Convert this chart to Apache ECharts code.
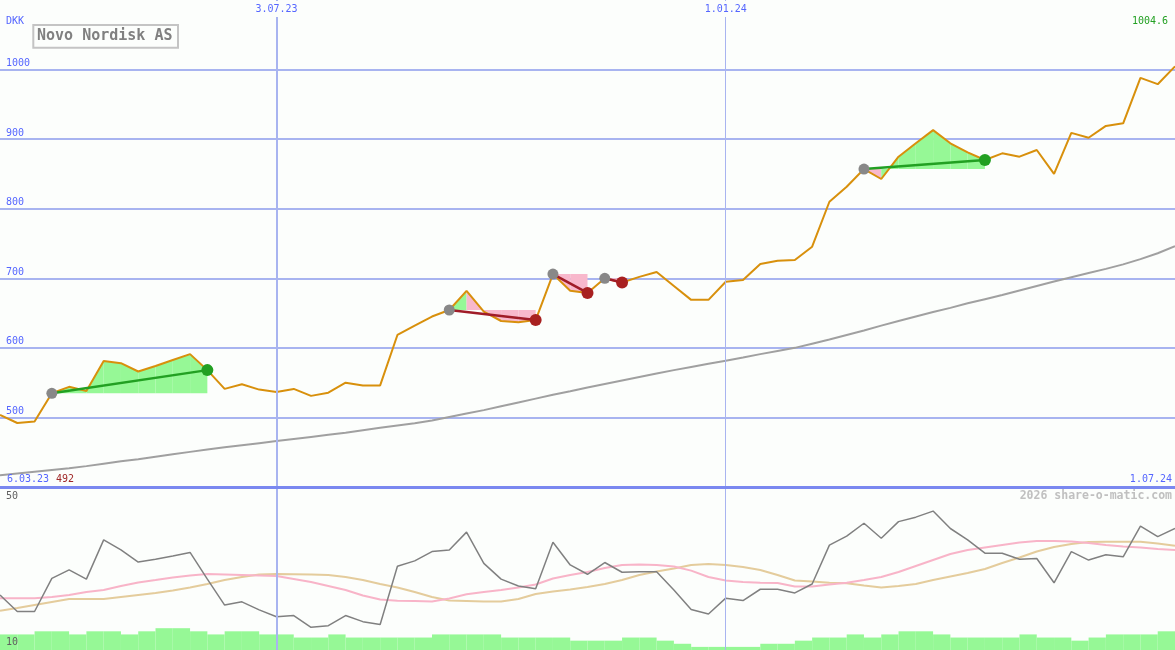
<!DOCTYPE html>
<html><head><meta charset="utf-8">
<script src="https://cdn.jsdelivr.net/npm/echarts@6/dist/echarts.min.js"></script>
<style>html,body{margin:0;padding:0;background:#fcfefc}#c{width:1175px;height:650px}</style>
</head><body><div id="c"></div>
<script>
// weekly categories (Mondays) from 13.03.23 to 1.07.24
const weeks = [];
for (let k = 0; k < 69; k++) {
  const d = new Date(Date.UTC(2023, 2, 13) + k * 7 * 86400000);
  weeks.push(d.toISOString().slice(0, 10));
}
const volWeeks = weeks.slice(0, 68);

const price = [503.5,492,494,534.7,544,538,581,578,566,574,
  582.5,591,568,541,547.6,540,536.5,541,531,535.6,
  550,546,546,618.5,632,645,654.4,682,652,638.6,
  636.7,640,706,682,679,700,694,702,709,689,
  669,669,695,697.5,720.5,725.3,726.3,745.4,810,831.6,
  857,842.7,874.8,894,913,894,881,870,879.6,874.8,
  884.4,850,909,902,919,922.8,988,979,1004.6];

const priceMA = [417,419.5,422,424.5,427,430,433.5,437,440,443.5,
  447,450.5,454,457,460,463,466,469,472,475,
  478,481.5,485,488.5,491.5,495.5,500.5,505.5,510.5,516,
  521.5,527,532.5,537.5,543,548,553,558,563,568,
  572.5,577,581.5,586,591,595.5,600,606,612,618.5,
  625,632,638.5,645,651.5,657.5,664,670,676,682.5,
  689,695.5,701.5,707.5,713.5,720,727.5,736,746];

const osc = [23.6,19.5,19.5,27.7,29.8,27.5,37.2,34.7,31.7,32.4,
  33.2,34.1,27.5,21.1,21.9,19.9,18.2,18.5,15.6,16.0,
  18.5,17.0,16.3,30.7,32.0,34.3,34.7,39.1,31.4,27.5,
  25.8,25.1,36.6,31.0,28.7,31.6,29.2,29.3,29.3,24.8,
  20.0,18.9,22.8,22.2,25.0,25.0,24.1,26.3,35.9,38.1,
  41.3,37.6,41.7,42.8,44.3,40.0,37.2,33.9,33.9,32.4,
  32.6,26.6,34.3,32.2,33.5,33.0,40.6,38.0,40.0];

const oscFast = [22.77,22.77,22.77,23.09,23.58,24.32,24.81,25.80,26.67,27.28,
  27.90,28.40,28.77,28.64,28.52,28.40,28.27,27.53,26.79,25.80,
  24.81,23.46,22.47,22.17,22.10,21.98,22.72,23.75,24.32,24.81,
  25.43,26.17,27.65,28.52,29.26,30.25,30.99,31.11,30.99,30.62,
  29.6,28.02,27.16,26.79,26.62,26.54,25.68,25.68,26.17,26.62,
  27.28,28.02,29.26,30.74,32.22,33.70,34.69,35.31,35.93,36.54,
  36.91,36.91,36.79,36.42,35.93,35.56,35.31,34.94,34.69];

const oscSlow = [19.70,20.37,21.11,21.85,22.59,22.59,22.59,23.09,23.58,24.07,
  24.69,25.43,26.30,27.28,28.02,28.64,28.77,28.72,28.64,28.52,
  28.02,27.28,26.30,25.43,24.32,23.09,22.22,22.10,21.98,21.98,
  22.59,23.83,24.44,24.94,25.56,26.30,27.28,28.52,29.38,30.12,
  30.99,31.23,30.99,30.49,29.75,28.52,27.16,26.91,26.62,26.47,
  25.93,25.43,25.80,26.30,27.28,28.15,29.01,30.0,31.48,32.84,
  34.32,35.43,36.17,36.67,36.74,36.74,36.74,36.30,35.75];

const volume = [5,5,6,6,5,6,6,5,6,7,
  7,6,5,6,6,5,5,4,4,5,
  4,4,4,4,4,5,5,5,5,4,
  4,4,4,3,3,3,4,4,3,2,
  1,1,1,1,2,2,3,4,4,5,
  4,5,6,6,5,4,4,4,4,5,
  4,4,3,4,5,5,5,6];

// trades: entry week index, exit week index
const tradeEntry = [3, 26, 32, 35, 50];
const tradeExit  = [12, 31, 34, 36, 57];

const dateMarks = ['2023-07-03', '2024-01-01'];
const cornerLabels = { first: '6.03.23', last: '1.07.24', low: '492', high: '1004.6' };
const title = 'Novo Nordisk AS';
const currency = 'DKK';
const watermark = '2026 share-o-matic.com';
const oscLabels = ['50', '10'];

const BG = '#fcfefc';
const BLUE = '#5566ff';
const GRIDC = '#a8b4f0';
const FONT = 'DejaVu Sans Mono';

function fmt(s) { const p = s.split('-'); return (+p[2]) + '.' + p[1] + '.' + p[0].slice(2); }

// fill segments: [i0, i1, p0, p1, level]
const fillData = [];
const tradeData = [];
tradeEntry.forEach((e, t) => {
  const x = tradeExit[t];
  const lvl = price[e];
  for (let k = e; k < x; k++) fillData.push([k, k + 1, price[k], price[k + 1], lvl]);
  tradeData.push([e, x, price[e], price[x]]);
});

const chart = echarts.init(document.getElementById('c'), null, { renderer: 'canvas' });

const vLines = () => dateMarks.map((d, i) => ({ xAxis: d, lineStyle: { color: GRIDC, width: i === 0 ? 2 : 1, type: 'solid' } }));

chart.setOption({
  backgroundColor: BG,
  animation: false,
  textStyle: { fontFamily: FONT },
  grid: [
    { left: 0, right: 0, top: 0, height: 487, outerBoundsMode: 'none', containLabel: false },
    { left: 0, right: 0, top: 488, height: 162, outerBoundsMode: 'none', containLabel: false }
  ],
  xAxis: [
    { gridIndex: 0, type: 'category', data: weeks, boundaryGap: false, position: 'top', z: 10,
      axisLine: { show: false }, axisTick: { show: false }, splitLine: { show: false },
      axisLabel: { inside: true, interval: (i) => dateMarks.indexOf(weeks[i]) >= 0, formatter: fmt,
        color: BLUE, fontSize: 10, fontFamily: FONT, margin: 1, verticalAlign: 'top',
        backgroundColor: BG, padding: [3, 2, 3, 2] } },
    { gridIndex: 1, type: 'category', data: weeks, boundaryGap: false, show: false },
    { gridIndex: 1, type: 'category', data: volWeeks, boundaryGap: true, show: false }
  ],
  yAxis: [
    { gridIndex: 0, type: 'value', min: 400, max: 1100, interval: 100,
      axisLine: { show: false }, axisTick: { show: false },
      splitLine: { showMinLine: false, showMaxLine: false, lineStyle: { color: GRIDC, width: 2 } },
      axisLabel: { inside: true, verticalAlign: 'bottom', color: BLUE, fontSize: 10, fontFamily: FONT,
        margin: 6, showMinLabel: false, showMaxLabel: false, padding: [0, 0, 1, 0],
        formatter: (v) => String(v) } },
    { gridIndex: 1, type: 'value', min: 10, max: 50, show: false, splitLine: { show: false } },
    { gridIndex: 1, type: 'value', min: 0, max: 52, show: false, splitLine: { show: false } }
  ],
  series: [
    { type: 'custom', xAxisIndex: 0, yAxisIndex: 0, z: 1, silent: true, data: fillData,
      encode: { x: [0, 1], y: [2, 3, 4] },
      renderItem: function (params, api) {
        const a = api.coord([api.value(0), api.value(2)]);
        const b = api.coord([api.value(1), api.value(3)]);
        const c = api.coord([api.value(1), api.value(4)]);
        const d = api.coord([api.value(0), api.value(4)]);
        const up = api.value(3) >= api.value(4);
        return { type: 'polygon', shape: { points: [a, b, c, d] }, style: { fill: up ? '#96f896' : '#f8b8cc', stroke: null } };
      } },
    { type: 'line', xAxisIndex: 0, yAxisIndex: 0, z: 2, data: priceMA, showSymbol: false, silent: true,
      lineStyle: { color: '#a0a0a0', width: 2 },
      markLine: { symbol: 'none', silent: true, label: { show: false }, data: vLines() } },
    { type: 'line', xAxisIndex: 0, yAxisIndex: 0, z: 3, data: price, showSymbol: false, silent: true,
      lineStyle: { color: '#d8900c', width: 2 } },
    { type: 'custom', xAxisIndex: 0, yAxisIndex: 0, z: 4, silent: true, data: tradeData,
      encode: { x: [0, 1], y: [2, 3] },
      renderItem: function (params, api) {
        const a = api.coord([api.value(0), api.value(2)]);
        const b = api.coord([api.value(1), api.value(3)]);
        const win = api.value(3) >= api.value(2);
        const col = win ? '#22a022' : '#a82020';
        const lineCol = win ? '#22a022' : '#a01c28';
        return { type: 'group', children: [
          { type: 'line', shape: { x1: a[0], y1: a[1], x2: b[0], y2: b[1] }, style: { stroke: lineCol, lineWidth: 2.5 } },
          { type: 'circle', shape: { cx: a[0], cy: a[1], r: 5.5 }, style: { fill: '#888888' } },
          { type: 'circle', shape: { cx: b[0], cy: b[1], r: 6 }, style: { fill: col } }
        ] };
      } },
    { type: 'bar', xAxisIndex: 2, yAxisIndex: 2, z: 2, data: volume, barCategoryGap: '0%', silent: true,
      itemStyle: { color: '#96f896' } },
    { type: 'line', xAxisIndex: 1, yAxisIndex: 1, z: 1, data: oscSlow, showSymbol: false, silent: true,
      lineStyle: { color: '#e4cc9c', width: 2 },
      markLine: { symbol: 'none', silent: true, label: { show: false }, data: vLines() } },
    { type: 'line', xAxisIndex: 1, yAxisIndex: 1, z: 3, data: oscFast, showSymbol: false, silent: true,
      lineStyle: { color: '#f8b4c8', width: 2 } },
    { type: 'line', xAxisIndex: 1, yAxisIndex: 1, z: 4, data: osc, showSymbol: false, silent: true,
      lineStyle: { color: '#808080', width: 1.5 } }
  ],
  graphic: [
    { type: 'rect', z: 100, silent: true, shape: { x: 0, y: 486, width: 1175, height: 3 }, style: { fill: '#7a88f0' } },
    { type: 'text', z: 100, silent: true, x: 6, y: 21.5, style: { text: currency, fill: BLUE, font: '10px ' + FONT, verticalAlign: 'middle' } },
    { type: 'rect', z: 100, silent: true, shape: { x: 33.3, y: 25, width: 144.7, height: 22.7 }, style: { fill: BG, stroke: '#c4c4c4', lineWidth: 2 } },
    { type: 'text', z: 101, silent: true, x: 37, y: 36.5, style: { text: title, fill: '#808080', font: 'bold 15px ' + FONT, verticalAlign: 'middle' } },
    { type: 'text', z: 100, silent: true, x: 1168, y: 21, style: { text: cornerLabels.high, fill: '#22a022', font: '10px ' + FONT, align: 'right', verticalAlign: 'middle' } },
    { type: 'text', z: 100, silent: true, x: 7, y: 479, style: { text: cornerLabels.first, fill: BLUE, font: '10px ' + FONT, verticalAlign: 'middle' } },
    { type: 'text', z: 100, silent: true, x: 56, y: 479, style: { text: cornerLabels.low, fill: '#a02828', font: '10px ' + FONT, verticalAlign: 'middle' } },
    { type: 'text', z: 100, silent: true, x: 1172, y: 479, style: { text: cornerLabels.last, fill: BLUE, font: '10px ' + FONT, align: 'right', verticalAlign: 'middle' } },
    { type: 'text', z: 100, silent: true, x: 1172, y: 496, style: { text: watermark, fill: '#c0c0c0', font: 'bold 11.5px ' + FONT, align: 'right', verticalAlign: 'middle' } },
    { type: 'text', z: 100, silent: true, x: 6, y: 496, style: { text: oscLabels[0], fill: '#606060', font: '10px ' + FONT, verticalAlign: 'middle' } },
    { type: 'text', z: 100, silent: true, x: 6, y: 642.5, style: { text: oscLabels[1], fill: '#606060', font: '10px ' + FONT, verticalAlign: 'middle' } }
  ]
});
</script></body></html>
